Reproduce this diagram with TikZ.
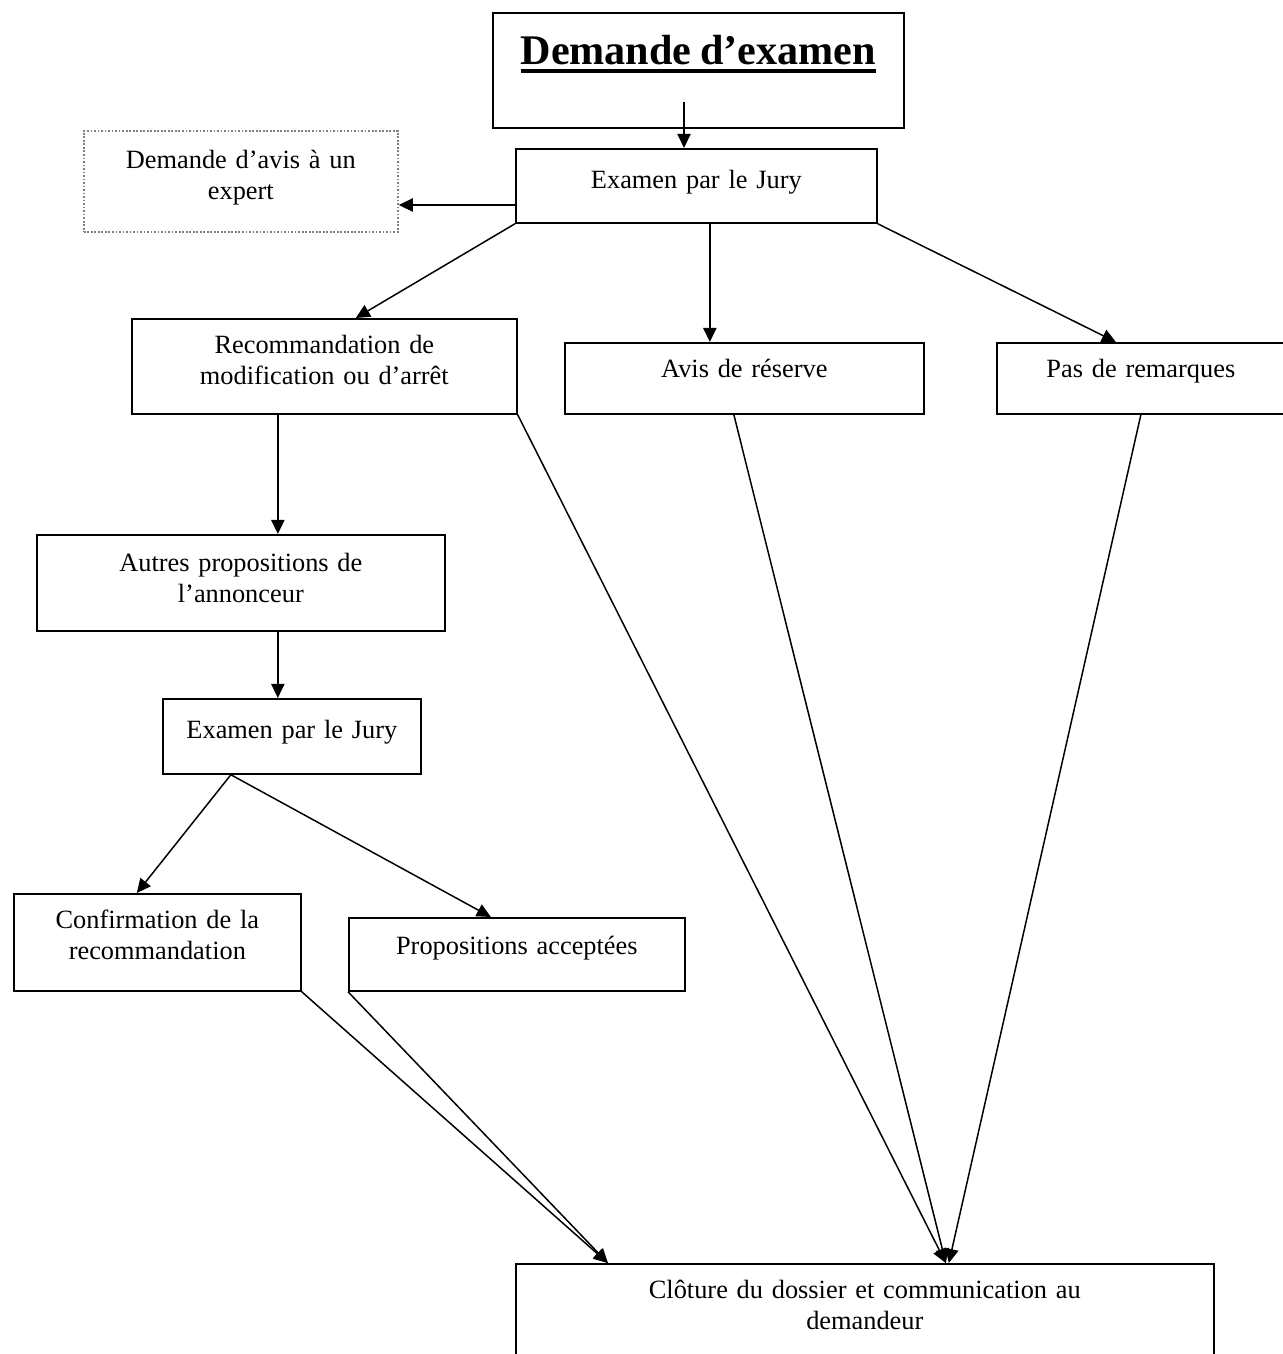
\documentclass[tikz,border=0pt]{standalone}
\usepackage{fontspec}
\setmainfont{Liberation Serif}
\usetikzlibrary{arrows.meta}
\newcommand{\souligne}[1]{\setbox0\hbox{#1}\rlap{\rule[-4.6pt]{\wd0}{2pt}}\box0}
\tikzset{
  cadre/.style={draw, line width=1pt, anchor=north west, inner sep=0pt, align=center,
    font=\fontsize{15}{17.3}\selectfont},
  pointille/.style={cadre, draw=gray, densely dotted},
  fleche/.style={-{Triangle[length=8pt,width=7.5pt]}, line width=0.85pt},
}

\begin{document}
\begin{tikzpicture}[x=0.02cm, y=-0.02cm]
  \useasboundingbox (0,0) rectangle (1282,1354) ;
  \node[cadre, text width=8.22cm, text height=1.04cm, text depth=1.26cm] (titre) at (492,12) {\fontsize{24}{28}\selectfont\bfseries\souligne{Demande d’examen}} ;
  \node[cadre, text width=7.22cm, text height=0.8cm, text depth=0.68cm] (jury) at (515,148) {Examen par le Jury} ;
  \node[pointille, text width=6.28cm, text height=0.76cm, text depth=1.26cm] (expert) at (83,130) {Demande d’avis à un\\expert} ;
  \node[cadre, text width=7.7cm, text height=0.7cm, text depth=1.2cm] (recom) at (131,318) {Recommandation de\\modification ou d’arrêt} ;
  \node[cadre, text width=7.18cm, text height=0.7cm, text depth=0.72cm] (avis) at (564,342) {Avis de réserve} ;
  \node[cadre, text width=5.76cm, text height=0.7cm, text depth=0.72cm] (remarq) at (996,342) {Pas de remarques} ;
  \node[cadre, text width=8.16cm, text height=0.74cm, text depth=1.18cm] (autres) at (36,534) {Autres propositions de\\l’annonceur} ;
  \node[cadre, text width=5.16cm, text height=0.8cm, text depth=0.7cm] (jury2) at (162,698) {Examen par le Jury} ;
  \node[cadre, text width=5.74cm, text height=0.7cm, text depth=1.24cm] (confirm) at (13,893) {Confirmation de la\\recommandation} ;
  \node[cadre, text width=6.72cm, text height=0.74cm, text depth=0.72cm] (propos) at (348,917) {Propositions acceptées} ;
  \node[cadre, text width=13.96cm, text height=0.7cm, text depth=1.16cm] (cloture) at (515,1263) {Clôture du dossier et communication au\\demandeur} ;
  \coordinate (depart) at (684,102) ;
  \coordinate (lien) at (515,205) ;
  \coordinate (bas) at ([xshift=-1.22cm]jury2.south) ;
  \coordinate (arrivee1) at ([xshift=-5.14cm]cloture.north) ;
  \coordinate (arrivee2) at ([xshift=1.62cm]cloture.north) ;
  \draw[fleche] (depart) -- (depart |- jury.north) ;
  \draw[fleche] (lien) -- (lien -| expert.east) ;
  \draw[fleche] (jury.south west) -- ([xshift=0.63cm]recom.north) ;
  \draw[fleche] ([xshift=-0.69cm]avis.north |- jury.south) -- ([xshift=-0.69cm]avis.north) ;
  \draw[fleche] (jury.south east) -- ([xshift=-0.5cm]remarq.north) ;
  \draw[fleche] ([xshift=-0.93cm]recom.south) -- ([xshift=-0.93cm]recom.south |- autres.north) ;
  \draw[fleche] ([xshift=0.74cm]autres.south) -- ([xshift=0.74cm]autres.south |- jury2.north) ;
  \draw[fleche] (bas) -- ([xshift=-0.41cm]confirm.north) ;
  \draw[fleche] (bas) -- ([xshift=-0.52cm]propos.north) ;
  \draw[fleche] (confirm.south east) -- (arrivee1) ;
  \draw[fleche] (propos.south west) -- (arrivee1) ;
  \draw[fleche] (recom.south east) -- (arrivee2) ;
  \draw[fleche] ([xshift=-0.21cm]avis.south) -- (arrivee2) ;
  \draw[fleche] (remarq.south) -- ([xshift=0.06cm]arrivee2) ;
\end{tikzpicture}
\end{document}
